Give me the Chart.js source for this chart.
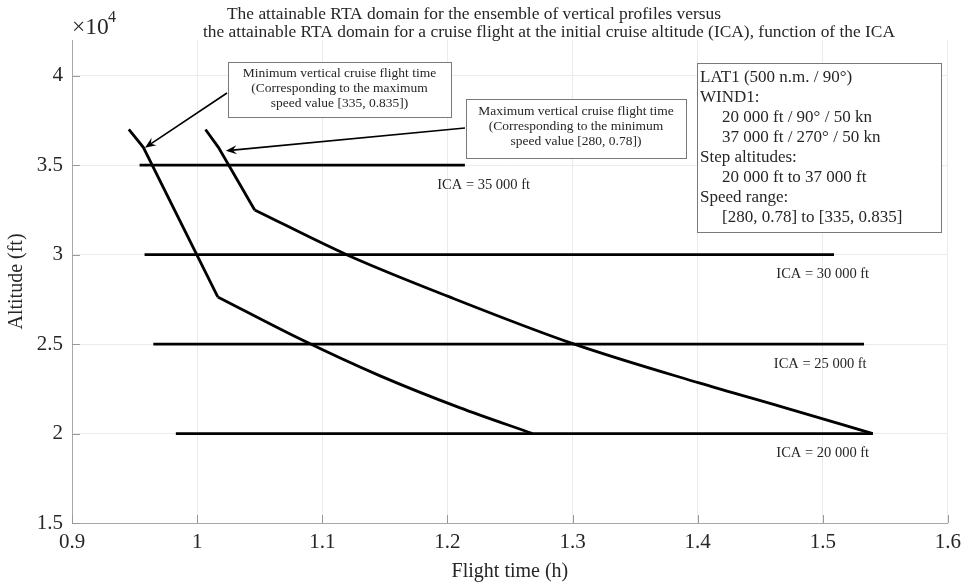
<!DOCTYPE html>
<html>
<head>
<meta charset="utf-8">
<script src="https://cdn.jsdelivr.net/npm/chart.js@4.4.1/dist/chart.umd.min.js"></script>
<style>
  html, body { margin: 0; padding: 0; background: #fff; }
  canvas { display: block; }
</style>
</head>
<body>
<canvas id="chart" width="968" height="584"></canvas>
<script>
// Minimum vertical cruise flight time (max speed [335, 0.835])
const minTimeHours = [0.9454, 0.957, 1.0165, 1.082, 1.1458, 1.2097, 1.268];
const minTimeAlt = [37000, 36000, 27640, 25300, 23240, 21450, 20000];

// Maximum vertical cruise flight time (min speed [280, 0.78])
const maxTimeHours = [1.0067, 1.017, 1.046, 1.1195, 1.2017, 1.3014, 1.4012, 1.4674, 1.54];
const maxTimeAlt = [37000, 36000, 32500, 30000, 27640, 25000, 22830, 21490, 20000];

// index of the last sharp corner; the profile is smooth after it
const kinkIndex = 2;

// cruise at the initial cruise altitude: attainable range per ICA
const icaLevels = [35000, 30000, 25000, 20000];
const icaStartHours = [0.954, 0.958, 0.965, 0.983];
const icaEndHours = [1.214, 1.509, 1.533, 1.54];
const icaLabels = ['ICA = 35 000 ft', 'ICA = 30 000 ft', 'ICA = 25 000 ft', 'ICA = 20 000 ft'];

const xTicks = [0.9, 1, 1.1, 1.2, 1.3, 1.4, 1.5, 1.6];
const yTicks = [15000, 20000, 25000, 30000, 35000, 40000];

const titleLines = [
  'The attainable RTA domain for the ensemble of vertical profiles versus',
  'the attainable RTA domain for a cruise flight at the initial cruise altitude (ICA), function of the ICA'
];
const infoLines = [
  'LAT1 (500 n.m. / 90°)',
  'WIND1:',
  '   20 000 ft / 90° / 50 kn',
  '   37 000 ft / 270° / 50 kn',
  'Step altitudes:',
  '   20 000 ft to 37 000 ft',
  'Speed range:',
  '   [280, 0.78] to [335, 0.835]'
];
const minNote = ['Minimum vertical cruise flight time', '(Corresponding to the maximum', 'speed value [335, 0.835])'];
const maxNote = ['Maximum vertical cruise flight time', '(Corresponding to the minimum', 'speed value [280, 0.78])'];

const SERIF = '"Liberation Serif", "Times New Roman", serif';
const TXT = '#262626';

function pts(xs, ys) { return xs.map((x, i) => ({ x: x, y: ys[i] })); }

const lineStyle = { showLine: true, pointRadius: 0, borderColor: '#000', borderWidth: 2.8, tension: 0, fill: false };
const datasets = [];
// each profile: straight part up to the corner, then a smooth curve
[[minTimeHours, minTimeAlt], [maxTimeHours, maxTimeAlt]].forEach(([xs, ys]) => {
  const p = pts(xs, ys);
  datasets.push(Object.assign({ data: p.slice(0, kinkIndex + 1) }, lineStyle));
  datasets.push(Object.assign({ data: p.slice(kinkIndex) }, lineStyle, { cubicInterpolationMode: 'monotone' }));
});
icaLevels.forEach((lvl, i) => {
  datasets.push(Object.assign({
    label: icaLabels[i],
    data: [{ x: icaStartHours[i], y: lvl }, { x: icaEndHours[i], y: lvl }]
  }, lineStyle));
});

function arrow(ctx, x1, y1, x2, y2) {
  const a = Math.atan2(y2 - y1, x2 - x1);
  const L = 11, W = 4.5, N = 7;
  ctx.beginPath();
  ctx.moveTo(x1, y1);
  ctx.lineTo(x2 - Math.cos(a) * N, y2 - Math.sin(a) * N);
  ctx.stroke();
  ctx.beginPath();
  ctx.moveTo(x2, y2);
  ctx.lineTo(x2 - L * Math.cos(a) + W * Math.sin(a), y2 - L * Math.sin(a) - W * Math.cos(a));
  ctx.lineTo(x2 - N * Math.cos(a), y2 - N * Math.sin(a));
  ctx.lineTo(x2 - L * Math.cos(a) - W * Math.sin(a), y2 - L * Math.sin(a) + W * Math.cos(a));
  ctx.closePath();
  ctx.fill();
}

function noteBox(ctx, box) {
  ctx.fillStyle = '#fff';
  ctx.fillRect(box.x, box.y, box.w, box.h);
  ctx.strokeStyle = '#7a7a7a';
  ctx.lineWidth = 1;
  ctx.strokeRect(box.x + 0.5, box.y + 0.5, box.w, box.h);
  ctx.fillStyle = TXT;
  ctx.textBaseline = 'middle';
}

const overlay = {
  id: 'overlay',
  afterDraw(chart) {
    const ctx = chart.ctx;
    const xs = chart.scales.x, ys = chart.scales.y;
    const area = chart.chartArea;
    ctx.save();

    // inward tick marks (MATLAB style)
    ctx.strokeStyle = '#9a9a9a';
    ctx.lineWidth = 1;
    ctx.beginPath();
    xTicks.forEach(v => {
      const px = Math.round(xs.getPixelForValue(v)) + 0.5;
      ctx.moveTo(px, area.bottom); ctx.lineTo(px, area.bottom - 8);
    });
    yTicks.forEach(v => {
      const py = Math.round(ys.getPixelForValue(v)) + 0.5;
      ctx.moveTo(area.left, py); ctx.lineTo(area.left + 8, py);
    });
    ctx.stroke();

    // axis titles
    ctx.fillStyle = TXT;
    ctx.font = '20px ' + SERIF;
    ctx.textAlign = 'center';
    ctx.textBaseline = 'middle';
    ctx.fillText('Flight time (h)', (area.left + area.right) / 2, 572);
    ctx.save();
    ctx.translate(17, (area.top + area.bottom) / 2);
    ctx.rotate(-Math.PI / 2);
    ctx.fillText('Altitude (ft)', 0, 0);
    ctx.restore();

    // exponent
    ctx.textAlign = 'left';
    ctx.font = '23.5px ' + SERIF;
    ctx.fillText('\u00d710', 72, 28);
    ctx.font = '16px ' + SERIF;
    ctx.fillText('4', 108, 18);

    // title
    ctx.font = '17.4px ' + SERIF;
    ctx.fillText(titleLines[0], 227, 14);
    ctx.fillText(titleLines[1], 203, 32);

    // ICA labels under each line
    ctx.font = '14.5px ' + SERIF;
    ctx.textAlign = 'center';
    const labelX = [1.229, 1.5, 1.498, 1.5];
    icaLevels.forEach((lvl, i) => {
      ctx.fillText(icaLabels[i], xs.getPixelForValue(labelX[i]), ys.getPixelForValue(lvl) + 20);
    });

    // arrows to the two profile curves
    ctx.strokeStyle = '#000';
    ctx.fillStyle = '#000';
    ctx.lineWidth = 1.6;
    arrow(ctx, 227, 93, xs.getPixelForValue(0.9583), ys.getPixelForValue(35980));
    arrow(ctx, 465, 128, xs.getPixelForValue(1.0229), ys.getPixelForValue(35805));

    // note boxes
    const b1 = { x: 228, y: 62, w: 223, h: 55 };
    noteBox(ctx, b1);
    ctx.font = '13.5px ' + SERIF;
    ctx.textAlign = 'center';
    minNote.forEach((t, i) => ctx.fillText(t, b1.x + b1.w / 2, 73 + i * 15));

    const b2 = { x: 466, y: 99, w: 220, h: 59 };
    noteBox(ctx, b2);
    ctx.font = '13.5px ' + SERIF;
    ctx.textAlign = 'center';
    maxNote.forEach((t, i) => ctx.fillText(t, b2.x + b2.w / 2, 111 + i * 15));

    const b3 = { x: 697, y: 63, w: 244, h: 169 };
    noteBox(ctx, b3);
    ctx.font = '17px ' + SERIF;
    ctx.textAlign = 'left';
    infoLines.forEach((t, i) => {
      const indent = t.startsWith('   ');
      ctx.fillText(t.trim(), indent ? 722 : 700, 78 + i * 19.9);
    });

    ctx.restore();
  }
};

new Chart(document.getElementById('chart'), {
  type: 'scatter',
  data: { datasets: datasets },
  options: {
    responsive: false,
    animation: false,
    events: [],
    layout: { padding: { left: 0, top: 40, right: 19, bottom: 0 } },
    plugins: { legend: { display: false }, tooltip: { enabled: false }, title: { display: false } },
    scales: {
      x: {
        type: 'linear', min: 0.9, max: 1.6,
        afterBuildTicks: s => { s.ticks = xTicks.map(v => ({ value: v })); },
        afterFit: s => { s.height = 61; },
        ticks: {
          color: TXT, padding: 7, maxRotation: 0,
          font: { family: SERIF, size: 21 },
          callback: v => String(Number(v.toFixed(1)))
        },
        grid: { color: '#ebebeb', drawTicks: false },
        border: { display: true, color: '#a8a8a8', width: 1 }
      },
      y: {
        type: 'linear', min: 15000, max: 42000,
        afterBuildTicks: s => { s.ticks = yTicks.map(v => ({ value: v })); },
        afterFit: s => { s.width = 72; },
        ticks: {
          color: TXT, padding: 9,
          font: { family: SERIF, size: 21 },
          callback: v => String(v / 10000)
        },
        grid: { color: '#ebebeb', drawTicks: false },
        border: { display: true, color: '#a8a8a8', width: 1 }
      }
    }
  },
  plugins: [overlay]
});
</script>
</body>
</html>
